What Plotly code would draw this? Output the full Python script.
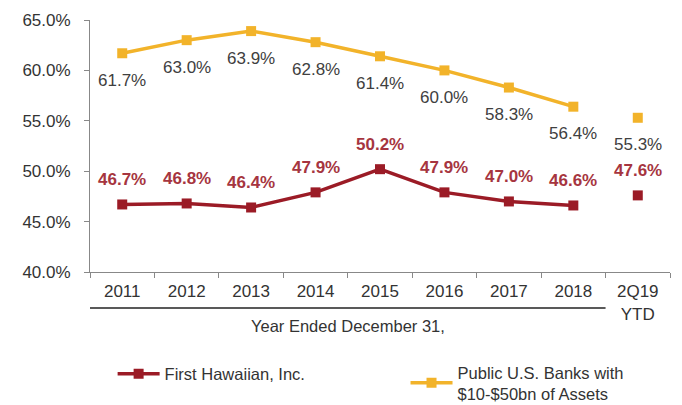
import plotly.graph_objects as go

categories = ["2011", "2012", "2013", "2014", "2015", "2016", "2017", "2018", "2Q19"]
tick_labels = ["2011", "2012", "2013", "2014", "2015", "2016", "2017", "2018", "2Q19<br>YTD"]
first_hawaiian = [46.7, 46.8, 46.4, 47.9, 50.2, 47.9, 47.0, 46.6, 47.6]
public_banks = [61.7, 63.0, 63.9, 62.8, 61.4, 60.0, 58.3, 56.4, 55.3]

RED = "#9B1B26"
RED_TXT = "#A63540"
GOLD = "#F2B32A"
GRAY = "#404040"
FONT = "Liberation Sans, Arial, sans-serif"
FS = 17

fig = go.Figure()

def lbl(v):
    return f"{v:.1f}%"

# Gold series (line for years, separate point for 2Q19)
fig.add_trace(go.Scatter(
    x=categories[:8], y=public_banks[:8], mode="lines+markers",
    name="Public U.S. Banks with<br>$10-$50bn of Assets", legend="legend2",
    line=dict(color=GOLD, width=3.5), marker=dict(symbol="square", size=10, color=GOLD),
))
fig.add_trace(go.Scatter(
    x=categories[8:], y=public_banks[8:], mode="markers", showlegend=False,
    marker=dict(symbol="square", size=10, color=GOLD),
))
# Red series
fig.add_trace(go.Scatter(
    x=categories[:8], y=first_hawaiian[:8], mode="lines+markers",
    name="First Hawaiian, Inc.", legend="legend",
    line=dict(color=RED, width=3.5), marker=dict(symbol="square", size=10, color=RED),
))
fig.add_trace(go.Scatter(
    x=categories[8:], y=first_hawaiian[8:], mode="markers", showlegend=False,
    marker=dict(symbol="square", size=10, color=RED),
))

annotations = []
for i, v in enumerate(public_banks):
    annotations.append(dict(
        x=i, y=v, xref="x", yref="y", text=lbl(v), showarrow=False,
        yshift=-27, font=dict(size=FS, color=GRAY), xanchor="center", yanchor="middle",
    ))
for i, v in enumerate(first_hawaiian):
    annotations.append(dict(
        x=i, y=v, xref="x", yref="y", text="<b>" + lbl(v) + "</b>", showarrow=False,
        yshift=25, font=dict(size=FS, color=RED_TXT), xanchor="center", yanchor="middle",
    ))
annotations.append(dict(
    text="Year Ended December 31,", xref="x", yref="paper", x=3.5, y=-0.215,
    showarrow=False, font=dict(size=16.5, color="#333333"), xanchor="center", yanchor="middle",
))

fig.update_layout(
    width=674, height=397,
    margin=dict(l=82, r=12, t=12, b=133, autoexpand=False),
    paper_bgcolor="white", plot_bgcolor="white",
    font=dict(family=FONT, color=GRAY, size=FS),
    xaxis=dict(
        type="category", range=[-0.5, 8.5], tickmode="array",
        tickvals=categories, ticktext=tick_labels, automargin=False,
        showline=True, linecolor="#888888", linewidth=1,
        ticks="outside", tickson="boundaries", ticklen=5, tickcolor="#888888",
        ticklabelstandoff=4,
        showgrid=False, tickfont=dict(size=FS, color="#333333"),
    ),
    yaxis=dict(
        range=[40, 65], dtick=5, tickformat=".1f", ticksuffix="%", automargin=False,
        showline=True, linecolor="#888888", linewidth=1,
        ticks="outside", ticklen=5, tickcolor="#888888", ticklabelstandoff=10,
        showgrid=False, zeroline=False, tickfont=dict(size=FS, color="#333333"),
    ),
    legend=dict(
        x=0.039, y=-0.405, xanchor="left", yanchor="middle", itemwidth=42,
        font=dict(size=16.5, color="#333333"), bgcolor="rgba(0,0,0,0)",
    ),
    legend2=dict(
        x=0.544, y=-0.44, xanchor="left", yanchor="middle", itemwidth=42,
        font=dict(size=16.5, color="#333333"), bgcolor="rgba(0,0,0,0)",
    ),
    shapes=[dict(
        type="line", xref="x", yref="paper", x0=-0.5, x1=7.5, y0=-0.143, y1=-0.143,
        line=dict(color="#222222", width=1.5),
    )],
    annotations=annotations,
)

fig.write_html("out.html")
